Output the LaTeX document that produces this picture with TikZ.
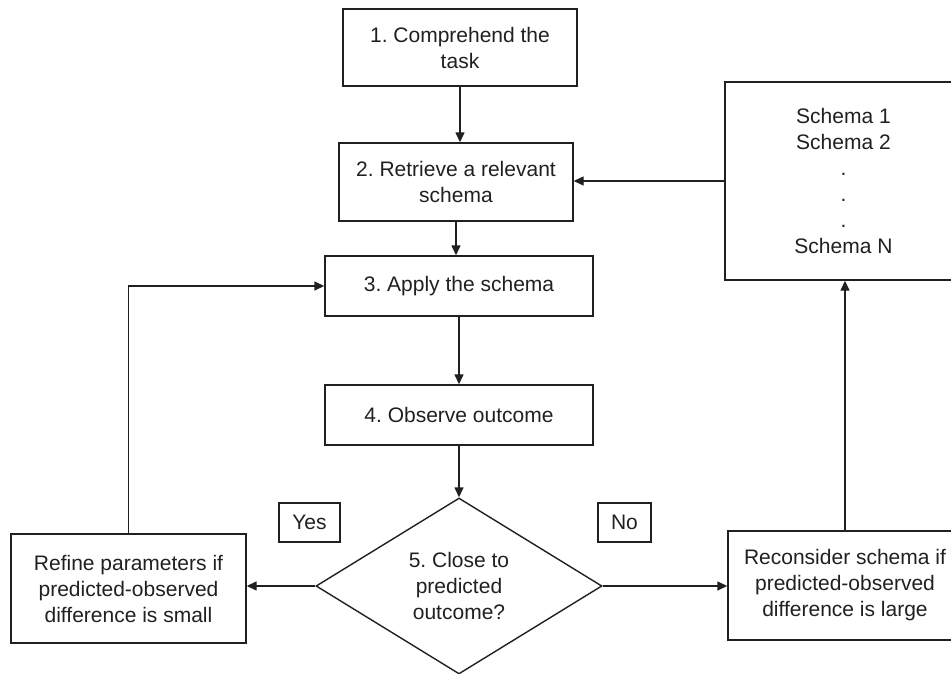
\documentclass[tikz,border=0pt]{standalone}
\usepackage{fontspec}
\setmainfont{Liberation Sans}
\usetikzlibrary{shapes.geometric,arrows.meta}
\definecolor{ink}{HTML}{231F20}
\newcommand\diagfont{\fontsize{21}{26}\selectfont\frenchspacing}
\begin{document}
\begin{tikzpicture}[x=1pt,y=-1pt,
  box/.style={draw=ink,line width=1.4pt,align=center,inner sep=0pt,font=\diagfont,text=ink},
  conn/.style={draw=ink,line width=1.4pt,-{Triangle[length=10pt,width=9pt]}}]
\useasboundingbox (0,0) rectangle (951,674);
\clip (0,0) rectangle (951,674);
\node[box,minimum width=234pt,minimum height=77pt] (b1) at (460,47.5) {1. Comprehend the\\task};
\node[box,minimum width=234pt,minimum height=78pt] (b2) at (456,182) {2. Retrieve a relevant\\schema};
\node[box,minimum width=268pt,minimum height=60pt] (b3) at (459,286) {3. Apply the schema};
\node[box,minimum width=268pt,minimum height=60pt] (b4) at (459,415) {4. Observe outcome};
\node[box,diamond,minimum width=286pt,minimum height=176pt] (d) at (459,586) {5. Close to\\predicted\\outcome?};
\node[box,minimum width=61pt,minimum height=39pt] (yes) at (309.5,522.5) {Yes};
\node[box,minimum width=53pt,minimum height=39pt] (no) at (624.5,522.5) {No};
\node[box,minimum width=235pt,minimum height=109pt] (ref) at (128.5,588.5) {Refine parameters if\\predicted-observed\\difference is small};
\node[box,minimum width=234pt,minimum height=109pt] (rec) at (845,585.5) {Reconsider schema if\\predicted-observed\\difference is large};
\node[box,minimum width=237pt,minimum height=198pt] (sch) at (843.5,181) {Schema 1\\Schema 2\\.\\.\\.\\Schema N};
\draw[conn] (b1.south) -- (b1.south |- b2.north);
\draw[conn] (b2.south) -- (b2.south |- b3.north);
\draw[conn] (b3.south) -- (b4.north);
\draw[conn] (b4.south) -- (d.north);
\draw[conn] (d.west) -- (ref.east |- d.west);
\draw[conn] (d.east) -- (rec.west |- d.east);
\draw[conn] (ref.north) |- (b3.west);
\draw[conn] (rec.north) -- (rec.north |- sch.south);
\draw[conn] (sch.west) -- (b2.east |- sch.west);
\end{tikzpicture}
\end{document}
